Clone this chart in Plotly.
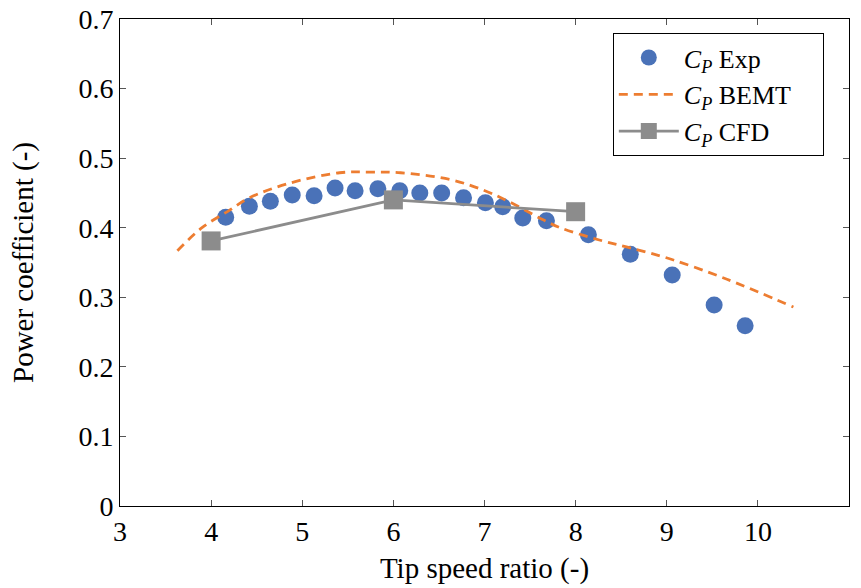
import plotly.graph_objects as go

exp_tsr = [4.16, 4.42, 4.65, 4.89, 5.13, 5.36, 5.58, 5.83, 6.07, 6.29, 6.53, 6.77, 7.01, 7.20, 7.42, 7.68, 8.14, 8.60, 9.06, 9.52, 9.86]
exp_cp = [0.415, 0.431, 0.438, 0.447, 0.446, 0.457, 0.453, 0.456, 0.453, 0.450, 0.450, 0.443, 0.436, 0.430, 0.414, 0.410, 0.390, 0.362, 0.332, 0.289, 0.259]

bemt_tsr = [3.63, 3.9, 4.2, 4.42, 4.86, 5.41, 5.74, 6.08, 6.63, 6.99, 7.26, 7.65, 7.83, 8.27, 8.60, 9.04, 9.66, 10.39]
bemt_cp = [0.367, 0.400, 0.425, 0.443, 0.464, 0.479, 0.480, 0.479, 0.469, 0.454, 0.438, 0.411, 0.400, 0.382, 0.371, 0.355, 0.326, 0.286]

cfd_tsr = [4, 6, 8]
cfd_cp = [0.381, 0.440, 0.423]

x_ticks = [3, 4, 5, 6, 7, 8, 9, 10, 11]
y_ticks = [0, 0.1, 0.2, 0.3, 0.4, 0.5, 0.6, 0.7]
y_labels = ["0", "0.1", "0.2", "0.3", "0.4", "0.5", "0.6", "0.7"]

CP = "<i>C</i><sub><i>P</i></sub>"
FONT = "Liberation Serif"
PAD = "&nbsp;&nbsp;&nbsp;&nbsp;"

fig = go.Figure()
fig.add_trace(go.Scatter(x=exp_tsr, y=exp_cp, mode="markers", name=CP + " Exp",
                         marker=dict(color="#4a72b8", size=17, symbol="circle")))
fig.add_trace(go.Scatter(x=bemt_tsr, y=bemt_cp, mode="lines", name=CP + " BEMT" + PAD,
                         line=dict(color="#ed7d31", width=2.8, dash="9px,6px", shape="spline")))
fig.add_trace(go.Scatter(x=cfd_tsr, y=cfd_cp, mode="lines+markers", name=CP + " CFD",
                         line=dict(color="#8c8c8c", width=2.8),
                         marker=dict(color="#8c8c8c", size=19, symbol="square")))

axis_common = dict(showgrid=False, zeroline=False, showline=True, linecolor="black", linewidth=1,
                   mirror="ticks", ticks="inside", ticklen=6, tickcolor="#555555",
                   tickfont=dict(family=FONT, size=28, color="black"))

fig.update_layout(
    width=861, height=588,
    margin=dict(l=120, r=12, t=19, b=82),
    paper_bgcolor="white", plot_bgcolor="white",
    font=dict(family=FONT, size=28, color="black"),
    xaxis=dict(range=[3, 11], tickvals=x_ticks, ticktext=[str(v) for v in x_ticks],
               title=dict(text="Tip speed ratio (-)", font=dict(family=FONT, size=29), standoff=12),
               automargin=False, **axis_common),
    yaxis=dict(range=[0, 0.7], tickvals=y_ticks, ticktext=y_labels,
               title=dict(text="Power coefficient (-)", font=dict(family=FONT, size=29), standoff=36),
               automargin=False, **axis_common),
    legend=dict(x=0.676, y=0.971, xanchor="left", yanchor="top",
                bordercolor="black", borderwidth=1, bgcolor="white",
                font=dict(family=FONT, size=26), itemwidth=60, tracegroupgap=0),
    showlegend=True,
)

fig.write_html("out.html", config={"displayModeBar": False},
               post_script="document.body.style.margin='0';")
